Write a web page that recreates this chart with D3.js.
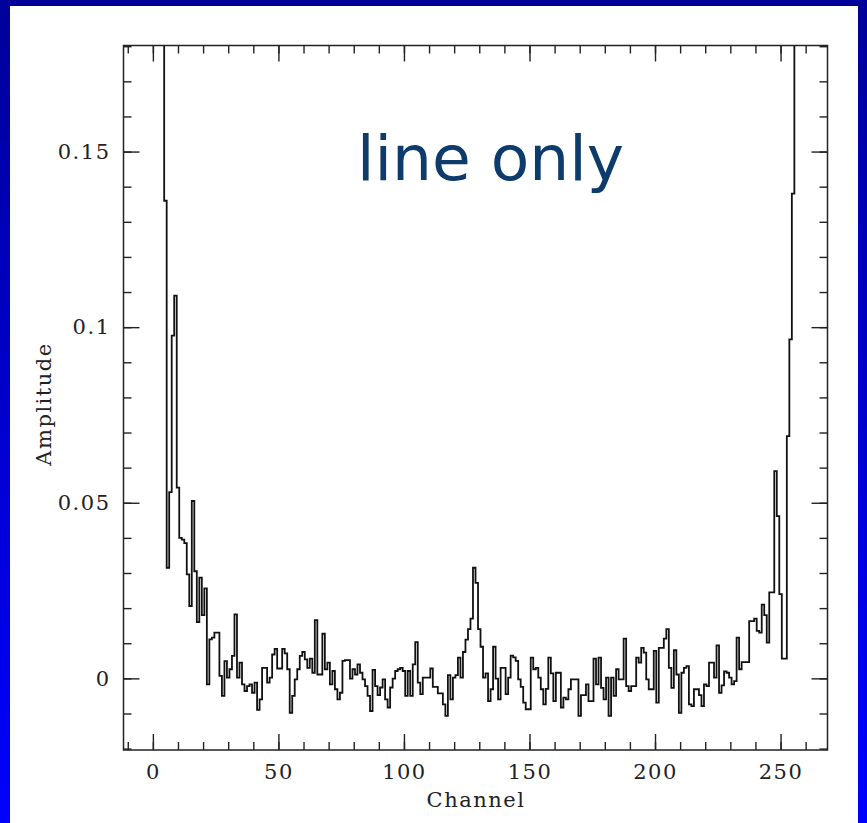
<!DOCTYPE html>
<html>
<head>
<meta charset="utf-8">
<script src="https://cdn.jsdelivr.net/npm/d3@7/dist/d3.min.js"></script>
<style>
  html, body { margin: 0; padding: 0; background: #fff; }
  svg { display: block; }
  .tick text { font-family: "DejaVu Serif", serif; font-size: 21px; fill: #222; letter-spacing: 1.5px; }
</style>
</head>
<body>
<svg id="chart" width="867" height="823"></svg>
<script>
// Spectrum amplitude per channel (channels 1..256)
const channels = d3.range(1, 257);
const amplitude = [
  0.40, 0.31, 0.24, 0.19, 0.136, 0.0315, 0.053, 0.0976, 0.109, 0.0543,
  0.040, 0.0395, 0.0385, 0.0296, 0.0206, 0.0505, 0.0305, 0.016, 0.0287, 0.018,
  0.0256, -0.0017, 0.0111, 0.0116, 0.013, 0.013, 0.0007, -0.005, 0.0049, 0.0002,
  0.0026, 0.0064, 0.0182, 0.0002, 0.0045, -0.0017, -0.0036, -0.0022, -0.0017, -0.0041,
  -0.0012, -0.009, -0.006, 0.003, 0.003, -0.0012, 0.0002, 0.0068, 0.0084, 0.0028,
  0.0028, 0.0084, 0.0071, 0.0026, -0.0098, -0.005, -0.0003, 0.0026, 0.0064, 0.0075,
  0.0054, 0.003, 0.0056, 0.0016, 0.0166, 0.0011, 0.0011, 0.0127, 0.0026, 0.0045,
  -0.0017, 0.0021, -0.0031, -0.006, -0.0041, 0.005, 0.0052, 0.0052, -0.0001, 0.0026,
  0.0011, 0.004, 0.0016, -0.0003, -0.0022, -0.005, -0.0093, 0.0024, -0.0022, -0.0048,
  -0.0026, -0.0003, -0.006, -0.0083, -0.0026, -0.0001, 0.0021, 0.0026, 0.003, 0.0021,
  -0.005, 0.0021, -0.005, 0.004, 0.0103, -0.0012, -0.0045, 0.0002, 0.0002, 0.0002,
  0.0028, -0.0024, -0.0024, -0.0043, -0.0043, -0.0074, -0.0107, 0.0009, -0.006, 0.0002,
  0.0009, 0.0059, 0.0002, 0.0075, 0.011, 0.014, 0.017, 0.0315, 0.0272, 0.014,
  0.009, 0.0002, 0.0014, -0.0065, -0.0031, 0.009, -0.0001, -0.006, 0.003, 0.003,
  -0.0045, 0.0002, 0.0065, 0.006, 0.005, -0.0003, -0.0024, -0.0069, -0.0088, -0.0088,
  0.0059, 0.0026, 0.003, 0.0002, -0.0031, -0.0074, -0.003, 0.0059, 0.0014, -0.0065,
  0.0016, 0.0016, -0.0083, -0.0055, -0.006, -0.0031, -0.0003, -0.0003, -0.0003, -0.0107,
  -0.0048, -0.0048, -0.0017, -0.0065, -0.0065, 0.0056, -0.0017, 0.0059, -0.0027, -0.006,
  0.0002, -0.0107, 0.0002, -0.005, 0.0026, -0.0003, -0.0003, 0.0113, -0.0022, -0.0036,
  -0.0022, -0.0022, 0.0059, 0.0045, 0.0087, 0.0073, -0.0003, -0.0031, -0.0031, 0.0078,
  -0.0069, 0.0087, 0.0087, 0.0113, 0.014, 0.003, -0.0027, 0.008, 0.0011, -0.0098,
  0.0016, 0.003, 0.0035, -0.0074, -0.0079, -0.0031, -0.0031, -0.0048, -0.0079, -0.0017,
  -0.0022, 0.0045, 0.0045, 0.0002, 0.0094, -0.0041, -0.002, 0.002, 0.0016, 0.0002,
  -0.0017, -0.0008, 0.0116, 0.0026, 0.0046, 0.0046, 0.0046, 0.0163, 0.0163, 0.017,
  0.0135, 0.013, 0.021, 0.018, 0.0102, 0.0245, 0.0245, 0.059, 0.0462, 0.024,
  0.0056, 0.0056, 0.069, 0.0965, 0.138, 0.35
];

const xTickValues = [0, 50, 100, 150, 200, 250];
const xMinorTicks = d3.range(-10, 261, 10);
const yTickValues = [0, 0.05, 0.1, 0.15];
const yTickLabels = ["0", "0.05", "0.1", "0.15"];
const yMinorTicks = d3.range(-2, 19).map(d => d / 100);
const xTitle = "Channel";
const yTitle = "Amplitude";
const headline = "line only";

const svg = d3.select("#chart");
const W = 867, H = 823;

// slide background: blue gradient with a white panel on top
const defs = svg.append("defs");
const grad = defs.append("linearGradient")
  .attr("id", "bg").attr("x1", 0).attr("y1", 0).attr("x2", 0).attr("y2", 1);
grad.append("stop").attr("offset", "0%").attr("stop-color", "#00009a");
grad.append("stop").attr("offset", "100%").attr("stop-color", "#0000ff");
svg.append("rect").attr("width", W).attr("height", H).attr("fill", "url(#bg)");
svg.append("rect").attr("x", 10).attr("y", 6).attr("width", 848).attr("height", H - 6).attr("fill", "#fff");

// plot box
const box = { left: 123.5, right: 827.5, top: 45.5, bottom: 750 };
const x = d3.scaleLinear().domain([-11.7, 268.7]).range([box.left, box.right]);
const y = d3.scaleLinear().domain([-0.0204, 0.1802]).range([box.bottom, box.top]);

defs.append("clipPath").attr("id", "plotclip")
  .append("rect")
  .attr("x", box.left).attr("y", box.top)
  .attr("width", box.right - box.left).attr("height", box.bottom - box.top);

// histogram outline: each channel is a flat step one channel wide
const stepPoints = channels.flatMap((c, i) => [[c - 0.5, amplitude[i]], [c + 0.5, amplitude[i]]]);
const line = d3.line().x(d => x(d[0])).y(d => y(d[1]));
svg.append("path")
  .attr("clip-path", "url(#plotclip)")
  .attr("d", line(stepPoints))
  .attr("fill", "none")
  .attr("stroke", "#111")
  .attr("stroke-width", 1.8)
  .attr("stroke-linejoin", "miter");

// axes with inward ticks on all four sides
function styleAxis(g) {
  g.select(".domain").remove();
  g.selectAll(".tick line").attr("stroke", "#222").attr("stroke-width", 1.4);
}
const major = 16, minor = 8;

svg.append("g").attr("transform", `translate(0,${box.bottom})`)
  .call(d3.axisBottom(x).tickValues(xMinorTicks).tickSize(-minor).tickFormat(""))
  .call(styleAxis);
svg.append("g").attr("transform", `translate(0,${box.bottom})`)
  .call(d3.axisBottom(x).tickValues(xTickValues).tickSize(-major).tickPadding(14).tickFormat(d3.format("d")))
  .call(styleAxis)
  .selectAll("text").attr("dy", "0.71em");
svg.append("g").attr("transform", `translate(0,${box.top})`)
  .call(d3.axisTop(x).tickValues(xMinorTicks).tickSize(-minor).tickFormat(""))
  .call(styleAxis);
svg.append("g").attr("transform", `translate(0,${box.top})`)
  .call(d3.axisTop(x).tickValues(xTickValues).tickSize(-major).tickFormat(""))
  .call(styleAxis);

svg.append("g").attr("transform", `translate(${box.left},0)`)
  .call(d3.axisLeft(y).tickValues(yMinorTicks).tickSize(-minor).tickFormat(""))
  .call(styleAxis);
svg.append("g").attr("transform", `translate(${box.left},0)`)
  .call(d3.axisLeft(y).tickValues(yTickValues).tickSize(-major).tickPadding(13)
    .tickFormat((d, i) => yTickLabels[i]))
  .call(styleAxis);
svg.append("g").attr("transform", `translate(${box.right},0)`)
  .call(d3.axisRight(y).tickValues(yMinorTicks).tickSize(-minor).tickFormat(""))
  .call(styleAxis);
svg.append("g").attr("transform", `translate(${box.right},0)`)
  .call(d3.axisRight(y).tickValues(yTickValues).tickSize(-major).tickFormat(""))
  .call(styleAxis);

// frame
svg.append("rect")
  .attr("x", box.left).attr("y", box.top)
  .attr("width", box.right - box.left).attr("height", box.bottom - box.top)
  .attr("fill", "none").attr("stroke", "#222").attr("stroke-width", 1.5);

// axis titles
svg.append("text")
  .attr("x", (box.left + box.right) / 2 + 0.5).attr("y", 807)
  .attr("text-anchor", "middle")
  .style("font-family", "'DejaVu Serif', serif").style("font-size", "21px")
  .style("letter-spacing", "1.5px").attr("fill", "#222")
  .text(xTitle);
svg.append("text")
  .attr("transform", "translate(51,404) rotate(-90)")
  .attr("text-anchor", "middle")
  .style("font-family", "'DejaVu Serif', serif").style("font-size", "21px")
  .style("letter-spacing", "1.5px").attr("fill", "#222")
  .text(yTitle);

// headline inside the plot
svg.append("text")
  .attr("x", 357).attr("y", 180)
  .style("font-family", "'DejaVu Sans', sans-serif").style("font-size", "63px")
  .attr("fill", "#0d3b6b")
  .text(headline);
</script>
</body>
</html>
